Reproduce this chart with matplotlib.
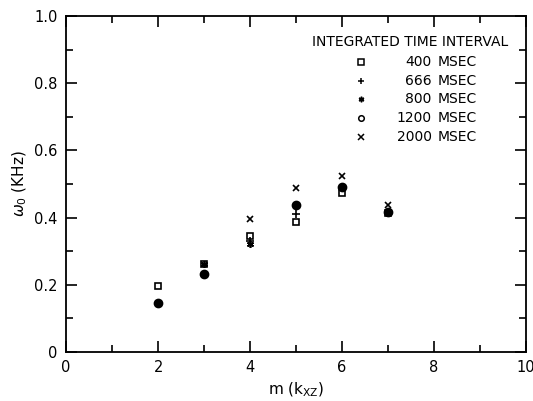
import matplotlib
matplotlib.use("Agg")
import matplotlib.pyplot as plt
from matplotlib.ticker import MultipleLocator, FixedLocator, FixedFormatter

# Data
x_400 = [2, 3, 4, 5, 6, 7]
y_400 = [0.196, 0.261, 0.345, 0.388, 0.472, 0.415]
x_666 = [4, 5]
y_666 = [0.330, 0.411]
x_800 = [3, 4]
y_800 = [0.261, 0.322]
x_1200 = [2, 3, 5, 6, 7]
y_1200 = [0.147, 0.231, 0.437, 0.492, 0.417]
x_2000 = [4, 5, 6, 7]
y_2000 = [0.396, 0.487, 0.524, 0.438]

legend_numbers = ["400", "666", "800", "1200", "2000"]
legend_title = "INTEGRATED TIME INTERVAL"
x_ticks = [0, 2, 4, 6, 8, 10]
x_ticklabels = ["0", "2", "4", "6", "8", "10"]
y_ticks = [0, 0.2, 0.4, 0.6, 0.8, 1.0]
y_ticklabels = ["0", "0.2", "0.4", "0.6", "0.8", "1.0"]

fig = plt.figure(figsize=(5.33, 4.01), dpi=100)
ax = fig.add_axes([0.124, 0.122, 0.863, 0.838])

k = 'black'
ax.plot(x_400, y_400, ls='none', marker='s', ms=5, mfc='white', mec=k, mew=1.2)
ax.plot(x_666, y_666, ls='none', marker='+', ms=6, mec=k, mew=1.2)
ax.plot(x_800, y_800, ls='none', marker=(6, 2, 0), ms=5, mec=k, mew=1.2)
ax.plot(x_1200, y_1200, ls='none', marker='o', ms=6, mfc=k, mec=k)
ax.plot(x_2000, y_2000, ls='none', marker='x', ms=4.5, mec=k, mew=1.2)

ax.set_xlim(0, 10)
ax.set_ylim(0, 1.0)
ax.xaxis.set_major_locator(FixedLocator(x_ticks))
ax.xaxis.set_major_formatter(FixedFormatter(x_ticklabels))
ax.yaxis.set_major_locator(FixedLocator(y_ticks))
ax.yaxis.set_major_formatter(FixedFormatter(y_ticklabels))
ax.xaxis.set_minor_locator(MultipleLocator(1))
ax.yaxis.set_minor_locator(MultipleLocator(0.1))
ax.tick_params(which='both', direction='in', top=True, right=True, width=1.2)
ax.tick_params(which='major', length=8, labelsize=10.5, pad=6)
ax.tick_params(which='minor', length=5)
for s in ax.spines.values():
    s.set_linewidth(1.3)

ax.set_xlabel(r'm (k$_{\mathrm{XZ}}$)', fontsize=11)
ax.set_ylabel(r'$\omega_{\mathrm{0}}$ (KHz)', fontsize=11)

# Manual legend
ax.text(0.749, 0.922, legend_title, transform=ax.transAxes, ha='center', va='center', fontsize=10)
rows_y = [0.862, 0.807, 0.753, 0.698, 0.641]
leg_markers = [dict(marker='s', ms=4, mfc='white', mec=k, mew=1.1),
               dict(marker='+', ms=5, mec=k, mew=1.1),
               dict(marker=(6, 2, 0), ms=4, mec=k, mew=1.1),
               dict(marker='o', ms=4, mfc='white', mec=k, mew=1.1),
               dict(marker='x', ms=4, mec=k, mew=1.1)]
for yy, num, mk in zip(rows_y, legend_numbers, leg_markers):
    ax.plot([0.641], [yy], ls='none', transform=ax.transAxes, clip_on=False, **mk)
    ax.text(0.795, yy, num, transform=ax.transAxes, ha='right', va='center', fontsize=10)
    ax.text(0.807, yy, "MSEC", transform=ax.transAxes, ha='left', va='center', fontsize=10)

fig.savefig("out.png", dpi=100)
